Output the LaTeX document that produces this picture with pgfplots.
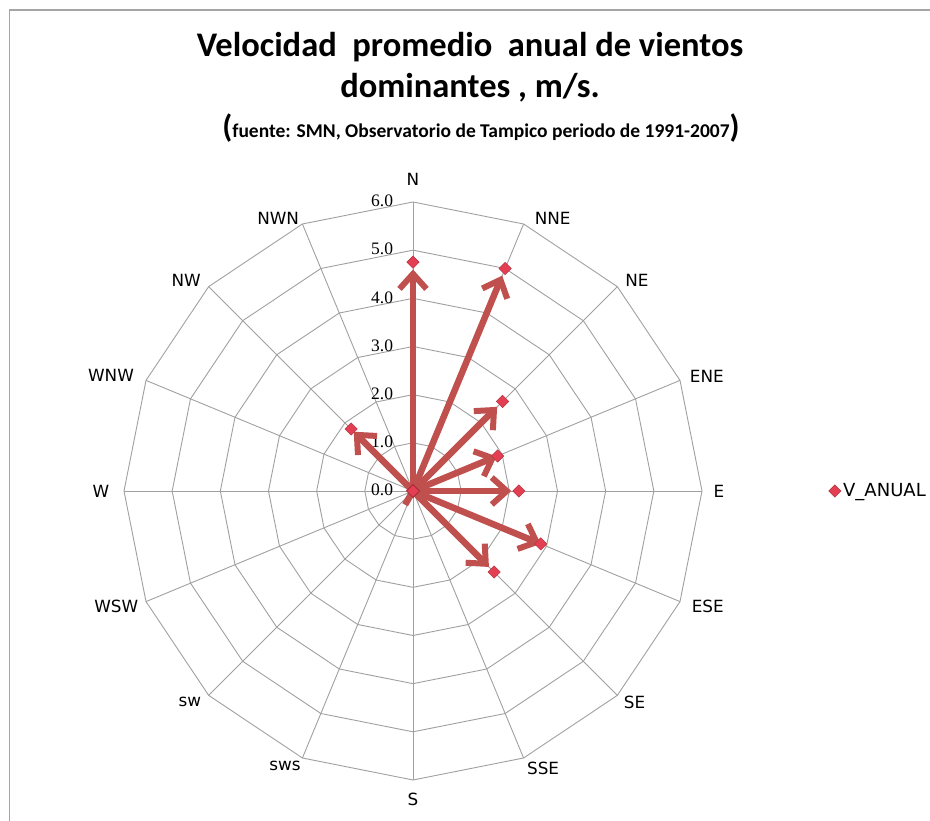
\documentclass[border=0pt]{standalone}
\usepackage{pgfplots}
\pgfplotsset{compat=1.18}
\usepgfplotslibrary{polar}
\usetikzlibrary{arrows.meta}
\usepackage{fontspec}
\setmainfont{Carlito}
\newfontfamily\dejavu{DejaVu Sans}
\newfontfamily\serifnum{Liberation Serif}
\definecolor{gridc}{RGB}{160,160,160}
\definecolor{arrowc}{RGB}{192,80,77}
\definecolor{markc}{RGB}{228,62,82}
\definecolor{borderc}{RGB}{165,165,165}
\newcommand{\lab}{\dejavu\fontsize{16.8bp}{19bp}\selectfont}
\begin{document}
\begin{tikzpicture}
\useasboundingbox (0,0) rectangle (930bp,821bp);
\draw[borderc, line width=1.8bp] (9.5bp,0) -- (9.5bp,811bp) -- (930bp,811bp);
\node[font=\bfseries\fontsize{34.5bp}{38bp}\selectfont] at (470bp,774bp) {Velocidad\ \ promedio\ \ anual de vientos};
\node[font=\bfseries\fontsize{34.5bp}{38bp}\selectfont] at (470bp,733bp) {dominantes , m/s.};
\node[font=\bfseries\fontsize{19.5bp}{23bp}\selectfont, inner sep=0pt] at (481bp,693bp) {{\fontsize{32bp}{34bp}\selectfont(}fuente: SMN, Observatorio de Tampico periodo de 1991-2007{\fontsize{32bp}{34bp}\selectfont)}};
\begin{axis}[
  at={(413bp,330bp)}, anchor=center,
  scale only axis, width=635.8bp, height=635.8bp,
  xmin=-6.6, xmax=6.6, ymin=-6.6, ymax=6.6,
  axis lines=none, clip=false,
  legend style={at={(axis description cs:1.152,0.5)}, anchor=west, draw=none, fill=none,
    font=\dejavu\fontsize{18bp}{20bp}\selectfont, inner sep=1bp},
  legend image code/.code={\draw[#1] plot coordinates {(0.12cm,0cm)};},
]
% grid rings
\pgfplotsinvokeforeach{1,2,3,4,5,6}{
\addplot[gridc, line width=0.9bp, data cs=polar, forget plot, mark=none] coordinates {(90,#1)(67.5,#1)(45,#1)(22.5,#1)(0,#1)(-22.5,#1)(-45,#1)(-67.5,#1)(-90,#1)(-112.5,#1)(-135,#1)(-157.5,#1)(180,#1)(157.5,#1)(135,#1)(112.5,#1)(90,#1)};
}
% spokes
\pgfplotsinvokeforeach{90,67.5,45,22.5,0,-22.5,-45,-67.5,-90,-112.5,-135,-157.5,180,157.5,135,112.5}{
\addplot[gridc, line width=0.9bp, data cs=polar, forget plot, mark=none] coordinates {(#1,0)(#1,6)};
}
% tick labels
\pgfplotsinvokeforeach{0,1,2,3,4,5,6}{
\node[anchor=east, inner sep=0pt, font=\serifnum\fontsize{17.5bp}{19bp}\selectfont] at (axis cs:-0.41,#1+0.02) {#1.0};
}
% direction labels
\node[font=\lab] at (axis cs:0,6.46) {N};
\node[font=\lab] at (axis cs:2.9,5.65) {NNE};
\node[font=\lab] at (axis cs:4.65,4.37) {NE};
\node[font=\lab] at (axis cs:6.1,2.38) {ENE};
\node[font=\lab] at (axis cs:6.35,0) {E};
\node[font=\lab] at (axis cs:6.12,-2.39) {ESE};
\node[font=\lab] at (axis cs:4.6,-4.38) {SE};
\node[font=\lab] at (axis cs:2.7,-5.76) {SSE};
\node[font=\lab] at (axis cs:0,-6.41) {S};
\node[font=\lab] at (axis cs:-2.66,-5.71) {sws};
\node[font=\lab] at (axis cs:-4.63,-4.38) {sw};
\node[font=\lab] at (axis cs:-6.16,-2.39) {WSW};
\node[font=\lab] at (axis cs:-6.48,0) {W};
\node[font=\lab] at (axis cs:-6.27,2.39) {WNW};
\node[font=\lab] at (axis cs:-4.71,4.38) {NW};
\node[font=\lab] at (axis cs:-2.8,5.65) {NWN};
% data markers
\addplot[only marks, data cs=polar, mark=square*, mark size=4.4bp, mark options={rotate=45, draw=markc!75!black, fill=markc, line width=0.4bp}]
coordinates {(90,4.75)(67.5,5.0)(45,2.63)(22.5,1.9)(0,2.2)(-22.5,2.87)(-45,2.38)(-67.5,0)(-90,0)(-112.5,0)(-135,0)(-157.5,0)(180,0)(157.5,0)(135,1.82)(112.5,0)};
\addlegendentry{V\_ANUAL}
% arrows
\pgfplotsset{arr/.style={arrowc, line width=6.5bp, data cs=polar, forget plot, mark=none, -{Straight Barb[length=15bp, width=27bp, line width=6bp]}}}
\addplot[arr] coordinates {(90,0)(90,4.6)};
\addplot[arr] coordinates {(67.5,0)(67.5,4.84)};
\addplot[arr] coordinates {(45,0)(45,2.47)};
\addplot[arr] coordinates {(22.5,0)(22.5,1.88)};
\addplot[arr] coordinates {(0,0)(0,2.04)};
\addplot[arr] coordinates {(-22.5,0)(-22.5,2.87)};
\addplot[arr] coordinates {(-45,0)(-45,2.23)};
\addplot[arr] coordinates {(135,0)(135,1.74)};
\addplot[arrowc, line width=6.5bp, data cs=polar, forget plot, mark=none] coordinates {(-120,0)(-120,0.33)};
\end{axis}
\end{tikzpicture}
\end{document}
